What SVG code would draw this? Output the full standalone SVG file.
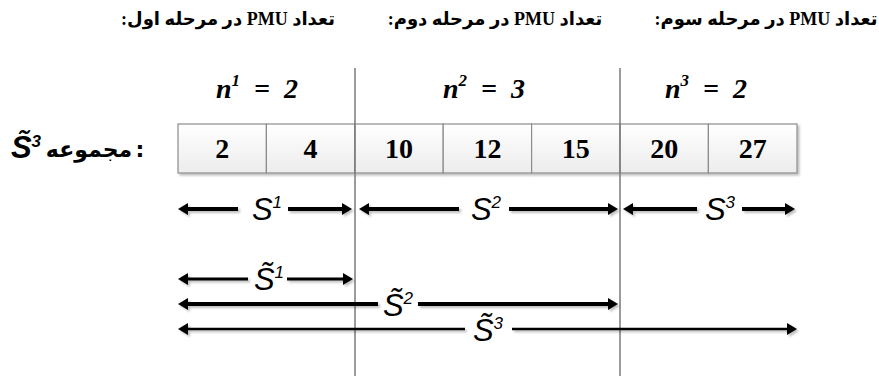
<svg xmlns="http://www.w3.org/2000/svg" width="879" height="376" viewBox="0 0 879 376">
<style>
.hd{font-family:"Liberation Serif","DejaVu Sans",serif;font-weight:bold;font-size:18px;fill:#000}
.fa{font-family:"DejaVu Sans","Noto Sans",sans-serif;font-weight:bold;fill:#000}
.nn{font-family:"Liberation Serif",serif;font-weight:bold;font-style:italic;font-size:28px;fill:#000;text-anchor:middle}
.num{font-family:"Liberation Serif",serif;font-weight:bold;font-size:28px;fill:#000;text-anchor:middle}
.sl{font-family:"Liberation Sans",Arial,sans-serif;font-style:italic;font-size:31px;fill:#000;text-anchor:middle}
.sup{font-size:17px}
.cell{fill:url(#cg);stroke:#8c8c8c;stroke-width:1.2}
.vl{stroke:#7a7a7a;stroke-width:1.5}
</style>
<defs>
<linearGradient id="cg" x1="0" y1="0" x2="0" y2="1">
<stop offset="0" stop-color="#ffffff"/>
<stop offset="1" stop-color="#ececec"/>
</linearGradient>
<filter id="sh" x="-5%" y="-50%" width="110%" height="200%">
<feDropShadow dx="2" dy="2" stdDeviation="0.8" flood-color="#000" flood-opacity="0.25"/>
</filter>
<marker id="ah" markerUnits="userSpaceOnUse" viewBox="0 0 10 12" markerWidth="10" markerHeight="12" refX="3" refY="6" orient="auto-start-reverse">
<path d="M0,0 L10,6 L0,12 z" fill="#000"/>
</marker>
</defs>

<g id="headings">
<text class="hd" x="228" y="25" direction="rtl" text-anchor="middle">تعداد PMU در مرحله اول:</text>
<text class="hd" x="495" y="25" direction="rtl" text-anchor="middle">تعداد PMU در مرحله دوم:</text>
<text class="hd" x="766" y="25" direction="rtl" text-anchor="middle">تعداد PMU در مرحله سوم:</text>
</g>

<g id="counts">
<text class="nn" x="257" y="98">n<tspan class="sup" dy="-12">1</tspan><tspan dy="12" xml:space="preserve">  =  2</tspan></text>
<text class="nn" x="484" y="98">n<tspan class="sup" dy="-12">2</tspan><tspan dy="12" xml:space="preserve">  =  3</tspan></text>
<text class="nn" x="706" y="98">n<tspan class="sup" dy="-12">3</tspan><tspan dy="12" xml:space="preserve">  =  2</tspan></text>
</g>

<g id="set-label">
<text class="sl" x="26" y="158" font-weight="bold" font-size="29">S&#771;<tspan class="sup" dy="-11">3</tspan></text>
<text class="fa" x="89" y="157" font-size="22" direction="rtl" text-anchor="middle">مجموعه</text>
<text class="fa" x="140" y="157" font-size="22" text-anchor="middle">:</text>
</g>

<g id="table" filter="url(#sh)">
<rect class="cell" x="178" y="124" width="88.4" height="49"/>
<rect class="cell" x="266.4" y="124" width="88.4" height="49"/>
<rect class="cell" x="354.8" y="124" width="88.4" height="49"/>
<rect class="cell" x="443.2" y="124" width="88.4" height="49"/>
<rect class="cell" x="531.6" y="124" width="88.4" height="49"/>
<rect class="cell" x="620" y="124" width="88.4" height="49"/>
<rect class="cell" x="708.4" y="124" width="88.6" height="49"/>
</g>
<g id="values">
<text class="num" x="222.2" y="158">2</text>
<text class="num" x="310.6" y="158">4</text>
<text class="num" x="399" y="158">10</text>
<text class="num" x="487.4" y="158">12</text>
<text class="num" x="575.8" y="158">15</text>
<text class="num" x="664.2" y="158">20</text>
<text class="num" x="752.7" y="158">27</text>
</g>

<g id="dividers">
<line class="vl" x1="355" y1="68" x2="355" y2="376"/>
<line class="vl" x1="620" y1="68" x2="620" y2="376"/>
</g>

<g id="connectors" filter="url(#sh)">
<line x1="185" y1="209" x2="238" y2="209" stroke="#000" stroke-width="4" marker-start="url(#ah)"/>
<line x1="288" y1="209" x2="345" y2="209" stroke="#000" stroke-width="4" marker-end="url(#ah)"/>
<line x1="366" y1="209" x2="459" y2="209" stroke="#000" stroke-width="4" marker-start="url(#ah)"/>
<line x1="509" y1="209" x2="611" y2="209" stroke="#000" stroke-width="4" marker-end="url(#ah)"/>
<line x1="630" y1="209" x2="697" y2="209" stroke="#000" stroke-width="4" marker-start="url(#ah)"/>
<line x1="742" y1="209" x2="788" y2="209" stroke="#000" stroke-width="4" marker-end="url(#ah)"/>

<line x1="185" y1="279" x2="248" y2="279" stroke="#000" stroke-width="3" marker-start="url(#ah)"/>
<line x1="287" y1="279" x2="346" y2="279" stroke="#000" stroke-width="3" marker-end="url(#ah)"/>

<line x1="185" y1="304" x2="378" y2="304" stroke="#000" stroke-width="4" marker-start="url(#ah)"/>
<line x1="418" y1="304" x2="611" y2="304" stroke="#000" stroke-width="4" marker-end="url(#ah)"/>

<line x1="185" y1="329" x2="465" y2="329" stroke="#000" stroke-width="2.5" marker-start="url(#ah)"/>
<line x1="512" y1="329" x2="790" y2="329" stroke="#000" stroke-width="2.5" marker-end="url(#ah)"/>
</g>

<g id="range-labels">
<text class="sl" x="267" y="220">S<tspan class="sup" dy="-12">1</tspan></text>
<text class="sl" x="486" y="220">S<tspan class="sup" dy="-12">2</tspan></text>
<text class="sl" x="720" y="220">S<tspan class="sup" dy="-12">3</tspan></text>
<text class="sl" x="269" y="290">S&#771;<tspan class="sup" dy="-12">1</tspan></text>
<text class="sl" x="398" y="316">S&#771;<tspan class="sup" dy="-12">2</tspan></text>
<text class="sl" x="488" y="341">S&#771;<tspan class="sup" dy="-12">3</tspan></text>
</g>
</svg>
